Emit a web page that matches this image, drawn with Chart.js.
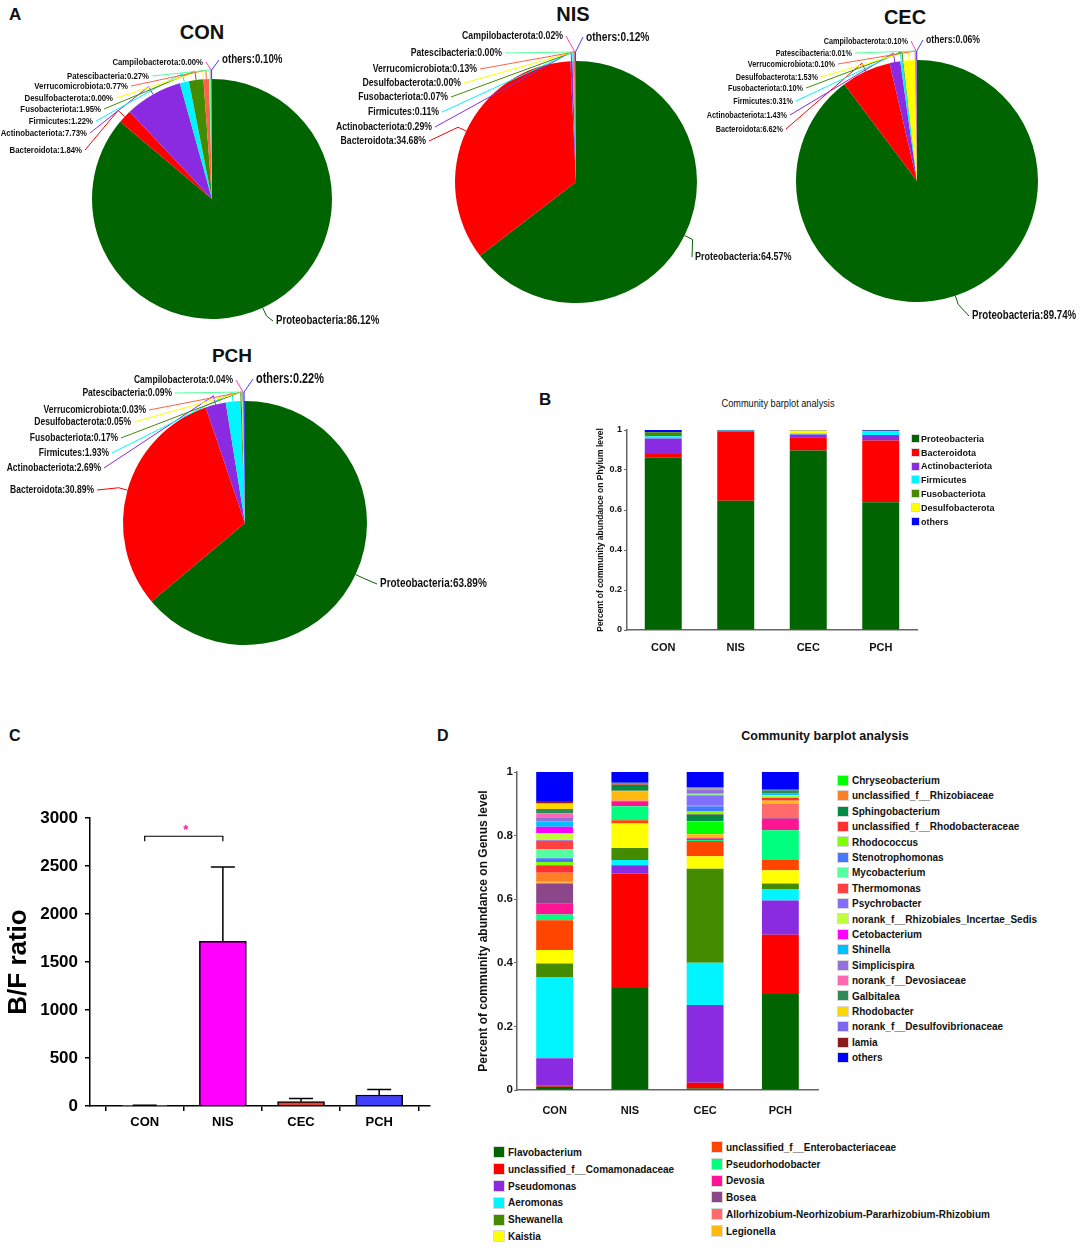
<!DOCTYPE html>
<html lang="en">
<head>
<meta charset="UTF-8">
<title>Microbiota composition - CON / NIS / CEC / PCH</title>
<script src="https://cdn.jsdelivr.net/npm/chart.js"></script>
<style>
  body { margin: 0; background: #fff; font-family: Arial, "Liberation Sans", sans-serif; color: #111; }
  #page { position: relative; width: 1084px; height: 1250px; overflow: hidden; }
  .box { position: absolute; }
  .tag { position: absolute; font-weight: bold; font-size: 17px; }
  .ttl { position: absolute; font-weight: bold; font-size: 20px; text-align: center; width: 120px; }
  .leg { position: absolute; font-weight: bold; white-space: nowrap; color: #111; }
  .leg span { display: inline-block; vertical-align: middle; position: relative; top: -1px; }
</style>
</head>
<body>
<div id="page">
  <div class="tag" style="left:9px;top:5px">A</div>
  <div class="tag" style="left:539px;top:390px">B</div>
  <div class="tag" style="left:9px;top:727px;font-size:16px">C</div>
  <div class="tag" style="left:437px;top:727px;font-size:16px">D</div>

  <div class="ttl" style="left:142px;top:21px">CON</div>
  <div class="ttl" style="left:513px;top:3px">NIS</div>
  <div class="ttl" style="left:845px;top:6px">CEC</div>
  <div class="ttl" style="left:172px;top:345px;font-size:19px">PCH</div>

  <div class="box" style="left:0;top:0;width:450px;height:340px"><canvas id="pieCON"></canvas></div>
  <div class="box" style="left:330px;top:0;width:480px;height:330px"><canvas id="pieNIS"></canvas></div>
  <div class="box" style="left:690px;top:0;width:394px;height:330px"><canvas id="pieCEC"></canvas></div>
  <div class="box" style="left:0;top:340px;width:520px;height:320px"><canvas id="piePCH"></canvas></div>

  <div style="position:absolute;left:678px;top:398px;width:200px;text-align:center;font-size:10px;transform:scaleX(0.92)">Community barplot analysis</div>
  <div class="box" style="left:560px;top:420px;width:380px;height:240px"><canvas id="phylumBar"></canvas></div>
  <div id="legB"></div>

  <div class="box" style="left:0;top:790px;width:440px;height:350px"><canvas id="bfBar"></canvas></div>

  <div style="position:absolute;left:725px;top:729px;width:200px;text-align:center;font-size:12.5px;font-weight:bold">Community barplot analysis</div>
  <div class="box" style="left:440px;top:760px;width:390px;height:360px"><canvas id="genusBar"></canvas></div>
  <div id="legD"></div>
</div>

<script>
  // ---------- data ----------
  const groups = ['CON', 'NIS', 'CEC', 'PCH'];

  // phylum level, % (pies)
  const phyla = ['Proteobacteria', 'Bacteroidota', 'Actinobacteriota', 'Firmicutes', 'Fusobacteriota',
    'Desulfobacterota', 'Verrucomicrobiota', 'Patescibacteria', 'Campilobacterota', 'others'];
  const pieCON = [86.12, 1.84, 7.73, 1.22, 1.95, 0.00, 0.77, 0.27, 0.00, 0.10];
  const pieNIS = [64.57, 34.68, 0.29, 0.11, 0.07, 0.00, 0.13, 0.00, 0.02, 0.12];
  const pieCEC = [89.74, 6.62, 1.43, 0.31, 0.10, 1.53, 0.10, 0.01, 0.10, 0.06];
  const piePCH = [63.89, 30.89, 2.69, 1.93, 0.17, 0.05, 0.03, 0.09, 0.04, 0.22];

  // phylum level, fraction (panel B)
  const barPhyla = ['Proteobacteria', 'Bacteroidota', 'Actinobacteriota', 'Firmicutes', 'Fusobacteriota', 'Desulfobacterota', 'others'];
  const phylumCON = [0.8612, 0.0184, 0.0773, 0.0122, 0.0195, 0.0000, 0.0114];
  const phylumNIS = [0.6457, 0.3468, 0.0029, 0.0011, 0.0007, 0.0000, 0.0027];
  const phylumCEC = [0.8974, 0.0662, 0.0143, 0.0031, 0.0010, 0.0153, 0.0027];
  const phylumPCH = [0.6389, 0.3089, 0.0269, 0.0193, 0.0017, 0.0005, 0.0038];

  // B/F ratio (panel C)
  const bfMean = [4, 1715, 45, 115];
  const bfSd = [3, 775, 32, 58];

  // genus level, fraction (panel D), stacked bottom to top
  const genera = ['Flavobacterium', 'unclassified_f__Comamonadaceae', 'Pseudomonas', 'Aeromonas', 'Shewanella',
    'Kaistia', 'unclassified_f__Enterobacteriaceae', 'Pseudorhodobacter', 'Devosia', 'Bosea',
    'Allorhizobium-Neorhizobium-Pararhizobium-Rhizobium', 'Legionella', 'Chryseobacterium',
    'unclassified_f__Rhizobiaceae', 'Sphingobacterium', 'unclassified_f__Rhodobacteraceae', 'Rhodococcus',
    'Stenotrophomonas', 'Mycobacterium', 'Thermomonas', 'Psychrobacter', 'norank_f__Rhizobiales_Incertae_Sedis',
    'Cetobacterium', 'Shinella', 'Simplicispira', 'norank_f__Devosiaceae', 'Galbitalea', 'Rhodobacter',
    'norank_f__Desulfovibrionaceae', 'Iamia', 'others'];
  const genusCON = [0.010, 0.003, 0.087, 0.254, 0.044, 0.042, 0.094, 0.018, 0.034, 0.063, 0.003, 0.003, 0.000,
    0.028, 0.000, 0.024, 0.010, 0.012, 0.027, 0.028, 0.002, 0.021, 0.021, 0.016, 0.014, 0.012, 0.014, 0.016,
    0.002, 0.007, 0.091];
  const genusNIS = [0.321, 0.360, 0.026, 0.016, 0.038, 0.077, 0.010, 0.044, 0.014, 0.002, 0.002, 0.029, 0.000,
    0.002, 0.019, 0.003, 0.000, 0.000, 0.000, 0.000, 0.000, 0.000, 0.000, 0.000, 0.000, 0.000, 0.003, 0.000,
    0.000, 0.000, 0.034];
  const genusCEC = [0.005, 0.018, 0.244, 0.133, 0.296, 0.039, 0.048, 0.003, 0.006, 0.000, 0.002, 0.010, 0.040,
    0.002, 0.020, 0.002, 0.008, 0.016, 0.002, 0.002, 0.031, 0.002, 0.000, 0.003, 0.012, 0.003, 0.002, 0.000,
    0.002, 0.000, 0.049];
  const genusPCH = [0.302, 0.186, 0.108, 0.036, 0.017, 0.042, 0.032, 0.094, 0.036, 0.002, 0.045, 0.007, 0.000,
    0.004, 0.000, 0.007, 0.006, 0.000, 0.002, 0.000, 0.000, 0.002, 0.000, 0.003, 0.002, 0.000, 0.010, 0.000,
    0.001, 0.000, 0.056];

  // ---------- colours ----------
  const phylumColors = ['#006400', '#ff0000', '#8a2be2', '#00f5ff', '#458b00', '#ffff00', '#ff6347', '#54ff9f', '#ff3eb5', '#4040ff'];
  const barPhylumColors = ['#006400', '#ff0000', '#8a2be2', '#00f5ff', '#458b00', '#ffff00', '#0000ff'];
  const bfColors = ['#999999', '#ff00ff', '#e8403a', '#3f3fff'];
  const genusColors = ['#006400', '#ff0000', '#8a2be2', '#00f5ff', '#458b00', '#ffff00', '#ff4500', '#00ff7f',
    '#ff1493', '#8b4789', '#ff6a6a', '#ffb90f', '#00ff00', '#ff7f24', '#008b45', '#ff3030', '#7fff00', '#4876ff',
    '#54ff9f', '#ff4040', '#836fff', '#c0ff3e', '#ff00ff', '#00bfff', '#9370db', '#ff69b4', '#2e8b57', '#ffd700',
    '#7b68ee', '#8b1a1a', '#0000ff'];

  Chart.defaults.font.family = 'Arial, "Liberation Sans", sans-serif';
  Chart.defaults.color = '#111';

  // ---------- pies (A) ----------
  // label spots in page coords, same order as phyla
  const pieLayout = {
    CON: { data: pieCON, box: [0, 0, 450, 340], c: [212, 199], r: 120, small: 9.9, others: 12.3, proteo: 12.2,
      spots: [[276, 321], [82, 150], [87, 133], [93, 121], [101, 109], [113, 98], [128, 86], [149, 76], [203, 62], [222, 60]] },
    NIS: { data: pieNIS, box: [330, 0, 480, 330], c: [576, 182], r: 121, small: 11, others: 12.9, proteo: 11.4,
      spots: [[695, 257], [426, 141], [432, 127], [439, 112], [448, 97], [461, 83], [477, 69], [502, 53], [563, 36], [586, 37]] },
    CEC: { data: pieCEC, box: [690, 0, 394, 330], c: [917, 181], r: 121, small: 9.2, others: 11, proteo: 12.3,
      spots: [[972, 316], [783, 129], [787, 115], [793, 101], [803, 88], [818, 77], [835, 64], [852, 53], [908, 41], [926, 40]] },
    PCH: { data: piePCH, box: [0, 340, 520, 320], c: [245, 523], r: 122, small: 10.8, others: 13.8, proteo: 12.6,
      spots: [[380, 584], [94, 490], [101, 468], [109, 453], [118, 438], [131, 422], [146, 410], [172, 393], [233, 380], [256, 379]] }
  };

  function narrowText(ctx, txt, x, y, size, sx, align) {
    ctx.save();
    ctx.font = 'bold ' + size + 'px Arial, "Liberation Sans", sans-serif';
    ctx.textBaseline = 'middle';
    ctx.fillStyle = '#111';
    const w = ctx.measureText(txt).width * sx;
    const x0 = align === 'right' ? x - w : x;
    ctx.translate(x0, y);
    ctx.scale(sx, 1);
    ctx.fillText(txt, 0, 0);
    ctx.restore();
    return [x0, x0 + w];
  }

  const pieLabels = {
    id: 'pieLabels',
    afterDraw(chart, args, o) {
      const ctx = chart.ctx;
      const arcs = chart.getDatasetMeta(0).data;
      const vals = chart.data.datasets[0].data;
      o.spots.forEach((spot, i) => {
        const x = spot[0] - o.box[0], y = spot[1] - o.box[1];
        const leftAligned = i === 0 || i === phyla.length - 1;
        const size = i === 0 ? o.proteo : (leftAligned ? o.others : o.small);
        const txt = phyla[i] + ':' + vals[i].toFixed(2) + '%';
        const [x0, x1] = narrowText(ctx, txt, x, y, size, 0.79, leftAligned ? 'left' : 'right');
        const a = arcs[i];
        const mid = (a.startAngle + a.endAngle) / 2;
        const r = a.outerRadius;
        const ex = a.x + r * Math.cos(mid), ey = a.y + r * Math.sin(mid);
        const bx = a.x + (r + 9) * Math.cos(mid), by = a.y + (r + 9) * Math.sin(mid);
        const sxp = leftAligned ? x0 - 3 : x1 + 3;
        ctx.save();
        ctx.strokeStyle = phylumColors[i];
        ctx.lineWidth = 1;
        ctx.beginPath();
        ctx.moveTo(sxp, y);
        ctx.lineTo(bx, by);
        ctx.lineTo(ex, ey);
        ctx.stroke();
        ctx.restore();
      });
    }
  };

  Object.keys(pieLayout).forEach(g => {
    const L = pieLayout[g];
    const [bl, bt, bw, bh] = L.box;
    const cx = L.c[0] - bl, cy = L.c[1] - bt;
    new Chart(document.getElementById('pie' + g), {
      type: 'pie',
      data: {
        labels: phyla,
        datasets: [{ data: L.data, backgroundColor: phylumColors, borderWidth: 0, hoverOffset: 0, offset: 0 }]
      },
      options: {
        responsive: true, maintainAspectRatio: false, animation: false,
        layout: { padding: { left: cx - L.r, top: cy - L.r, right: bw - cx - L.r, bottom: bh - cy - L.r } },
        plugins: {
          legend: { display: false }, tooltip: { enabled: false },
          pieLabels: { spots: L.spots, box: L.box, small: L.small, others: L.others, proteo: L.proteo }
        }
      },
      plugins: [pieLabels]
    });
  });

  // ---------- legends (HTML) ----------
  function legendItem(parentId, x, y, color, text, sw, sh, fs, gap) {
    const d = document.createElement('div');
    d.className = 'leg';
    d.style.left = x + 'px';
    d.style.top = (y - fs * 0.6) + 'px';
    d.style.fontSize = fs + 'px';
    d.style.lineHeight = (fs * 1.2) + 'px';
    d.innerHTML = '<span style="width:' + sw + 'px;height:' + sh + 'px;background:' + color +
      ';margin-right:' + gap + 'px;outline:1px solid rgba(0,0,0,0.15)"></span>' + text;
    document.getElementById(parentId).appendChild(d);
  }
  barPhyla.forEach((n, k) => legendItem('legB', 912, 439 + k * 13.9, barPhylumColors[k], n, 7, 7, 9, 2));
  genera.forEach((n, k) => {
    if (k < 6) legendItem('legD', 494, 1153 + k * 16.8, genusColors[k], n, 10, 10, 10, 4);
    else if (k < 12) legendItem('legD', 712, 1148 + (k - 6) * 16.7, genusColors[k], n, 10, 10, 10, 4);
    else legendItem('legD', 838, 781 + (k - 12) * 15.4, genusColors[k], n, 10, 9, 10, 4);
  });

  const fracTick = v => String(Math.round(v * 10) / 10);

  // ---------- B: phylum stacked bars ----------
  const phylumByGroup = [phylumCON, phylumNIS, phylumCEC, phylumPCH];
  new Chart(document.getElementById('phylumBar'), {
    type: 'bar',
    data: {
      labels: groups,
      datasets: barPhyla.map((name, k) => ({
        label: name, data: phylumByGroup.map(g => g[k]), backgroundColor: barPhylumColors[k],
        borderWidth: 0, barPercentage: 0.51, categoryPercentage: 1
      }))
    },
    options: {
      responsive: true, maintainAspectRatio: false, animation: false,
      layout: { padding: { left: 36, top: 10, right: 23, bottom: 0 } },
      plugins: { legend: { display: false }, tooltip: { enabled: false } },
      scales: {
        x: {
          stacked: true, afterFit: s => { s.height = 30; },
          grid: { display: false }, border: { display: true, color: '#666', width: 1.5 },
          ticks: { font: { size: 11, weight: 'bold' }, padding: 3 }
        },
        y: {
          stacked: true, min: 0, max: 1, afterFit: s => { s.width = 31; },
          grid: { drawOnChartArea: false, tickLength: 3, color: '#666' }, border: { color: '#666', width: 1.5 },
          ticks: { stepSize: 0.2, callback: fracTick, font: { size: 9, weight: 'bold' }, padding: 2 },
          title: { display: true, text: 'Percent of community abundance on Phylum level', font: { size: 8.5, weight: 'bold' }, padding: 0 }
        }
      }
    }
  });

  // ---------- C: B/F ratio ----------
  const bfExtras = {
    id: 'bfExtras',
    afterDatasetsDraw(chart) {
      const ctx = chart.ctx, xs = chart.scales.x, ys = chart.scales.y;
      ctx.save();
      ctx.strokeStyle = '#000';
      ctx.lineWidth = 1.5;
      bfMean.forEach((m, i) => {
        const x = xs.getPixelForValue(i);
        const y0 = ys.getPixelForValue(m), y1 = ys.getPixelForValue(m + bfSd[i]);
        ctx.beginPath();
        ctx.moveTo(x, y0); ctx.lineTo(x, y1);
        ctx.moveTo(x - 12, y1); ctx.lineTo(x + 12, y1);
        ctx.stroke();
      });
      // significance bracket CON vs NIS
      const xa = xs.getPixelForValue(0), xb = xs.getPixelForValue(1), yb = ys.getPixelForValue(2810);
      ctx.lineWidth = 1.2;
      ctx.beginPath();
      ctx.moveTo(xa, yb + 5); ctx.lineTo(xa, yb); ctx.lineTo(xb, yb); ctx.lineTo(xb, yb + 5);
      ctx.stroke();
      ctx.fillStyle = '#ff1493';
      ctx.font = 'bold 13px Arial, "Liberation Sans", sans-serif';
      ctx.textAlign = 'center';
      ctx.textBaseline = 'middle';
      ctx.fillText('*', (xa + xb) / 2 + 2, ys.getPixelForValue(2870));
      ctx.restore();
    }
  };
  new Chart(document.getElementById('bfBar'), {
    type: 'bar',
    data: {
      datasets: [{
        data: bfMean.map((v, i) => ({ x: i, y: v })), backgroundColor: bfColors,
        borderColor: '#000', borderWidth: 1.5, barThickness: 47
      }]
    },
    options: {
      responsive: true, maintainAspectRatio: false, animation: false,
      layout: { padding: { left: 3, top: 28, right: 10, bottom: 4 } },
      plugins: { legend: { display: false }, tooltip: { enabled: false } },
      scales: {
        x: {
          type: 'linear', min: -0.7, max: 3.65, offset: false, afterFit: s => { s.height = 30; },
          afterBuildTicks: s => { s.ticks = groups.map((g, i) => ({ value: i })); },
          grid: { drawOnChartArea: false, tickLength: 5, color: '#000', lineWidth: 1.5 },
          border: { color: '#000', width: 1.5 },
          ticks: { callback: v => groups[v], font: { size: 13, weight: 'bold' }, color: '#000', padding: 4 }
        },
        y: {
          min: 0, max: 3000, afterFit: s => { s.width = 87; },
          grid: { drawOnChartArea: false, tickLength: 5, color: '#000', lineWidth: 1.5 },
          border: { color: '#000', width: 1.5 },
          ticks: { stepSize: 500, callback: v => String(v), font: { size: 17, weight: 'bold' }, color: '#000', padding: 7 },
          title: { display: true, text: 'B/F ratio', font: { size: 26, weight: 'bold' }, color: '#000', padding: 0 }
        }
      }
    },
    plugins: [bfExtras]
  });

  // ---------- D: genus stacked bars ----------
  const genusByGroup = [genusCON, genusNIS, genusCEC, genusPCH];
  new Chart(document.getElementById('genusBar'), {
    type: 'bar',
    data: {
      labels: groups,
      datasets: genera.map((name, k) => ({
        label: name, data: genusByGroup.map(g => g[k]), backgroundColor: genusColors[k],
        borderWidth: 0, barPercentage: 0.49, categoryPercentage: 1
      }))
    },
    options: {
      responsive: true, maintainAspectRatio: false, animation: false,
      layout: { padding: { left: 36, top: 12, right: 12, bottom: 0 } },
      plugins: { legend: { display: false }, tooltip: { enabled: false } },
      scales: {
        x: {
          stacked: true, afterFit: s => { s.height = 30; },
          grid: { display: false }, border: { display: true, color: '#666', width: 1.5 },
          ticks: { font: { size: 11, weight: 'bold' }, padding: 6 }
        },
        y: {
          stacked: true, min: 0, max: 1, afterFit: s => { s.width = 41; },
          grid: { drawOnChartArea: false, tickLength: 3, color: '#666' }, border: { color: '#666', width: 1.5 },
          ticks: { stepSize: 0.2, callback: fracTick, font: { size: 11.5, weight: 'bold' }, padding: 1 },
          title: { display: true, text: 'Percent of community abundance on Genus level', font: { size: 12, weight: 'bold' }, padding: 0 }
        }
      }
    }
  });
</script>
</body>
</html>
